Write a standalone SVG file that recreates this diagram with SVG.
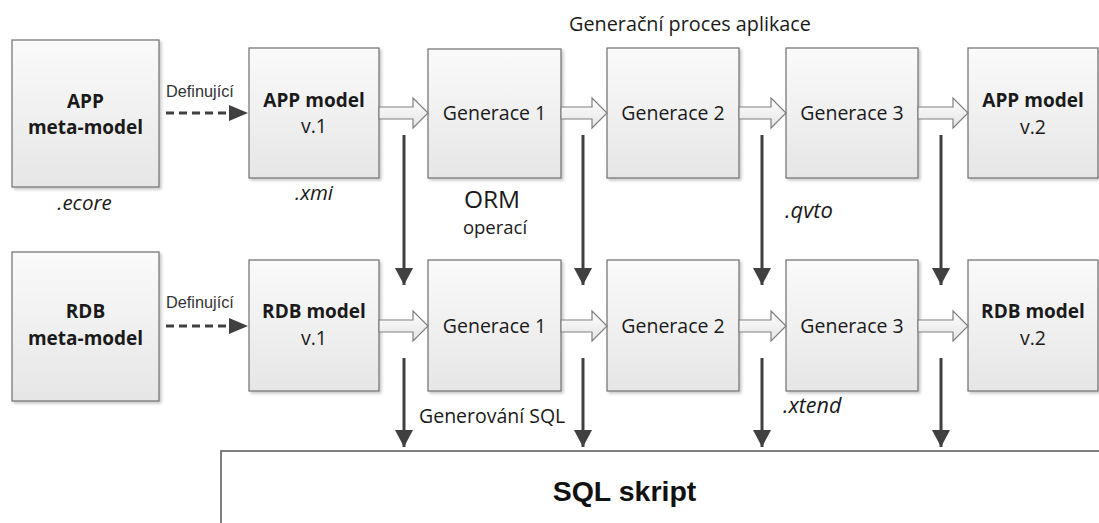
<svg xmlns="http://www.w3.org/2000/svg" width="1099" height="523" viewBox="0 0 1099 523">
  <style>
    .box { fill: url(#boxGrad); stroke: #6f6f6f; stroke-width: 1.2; filter: url(#shadow); }
    .blk { fill: url(#arrGrad); stroke: #808080; stroke-width: 1.2; }
    .t { font-family: "Open Sans", "Liberation Sans", sans-serif; fill: #1a1a1a; text-anchor: middle; }
    .b { font-weight: bold; font-size: 19px; }
    .r { font-size: 19.5px; }
    .i { font-style: italic; font-size: 20.5px; }
    .lbl { font-family: "Liberation Sans", Arial, sans-serif; font-size: 16.3px; fill: #333; }
    .v { stroke: #404040; stroke-width: 3; fill: none; marker-end: url(#head); }
    .d { stroke: #404040; stroke-width: 3; fill: none; stroke-dasharray: 8 5; }
    .dh { fill: #404040; }
  </style>
  <defs>
    <linearGradient id="boxGrad" x1="0" y1="0" x2="0" y2="1">
      <stop offset="0" stop-color="#fafafa"/>
      <stop offset="1" stop-color="#e6e6e6"/>
    </linearGradient>
    <linearGradient id="arrGrad" x1="0" y1="0" x2="0" y2="1">
      <stop offset="0" stop-color="#ffffff"/>
      <stop offset="1" stop-color="#e4e4e4"/>
    </linearGradient>
    <filter id="shadow" x="-10%" y="-10%" width="130%" height="130%">
      <feDropShadow dx="2" dy="2" stdDeviation="1.5" flood-color="#000" flood-opacity="0.22"/>
    </filter>
    <marker id="head" markerUnits="userSpaceOnUse" markerWidth="20" markerHeight="20" viewBox="0 0 20 20" refX="17" refY="10" orient="auto">
      <path d="M0,1 L17,10 L0,19 Z" fill="#404040"/>
    </marker>
  </defs>

  <rect width="1099" height="523" fill="#ffffff"/>

  <text class="t" x="690" y="31" style="font-size:19.8px">Generační proces aplikace</text>

  <g id="app-meta">
    <rect class="box" x="12" y="40" width="147" height="147"/>
    <text class="t b" x="85.5" y="108">APP</text>
    <text class="t b" x="85.5" y="134">meta-model</text>
    <text class="t i" x="84.5" y="210">.ecore</text>
  </g>
  <g id="app-v1">
    <rect class="box" x="249" y="48" width="130" height="130"/>
    <text class="t b" x="314" y="107">APP model</text>
    <text class="t r" x="314" y="133">v.1</text>
    <text class="t i" x="314" y="200">.xmi</text>
  </g>
  <g id="app-g1">
    <rect class="box" x="428" y="49" width="133" height="129"/>
    <text class="t r" x="494.5" y="120">Generace 1</text>
  </g>
  <g id="app-g2">
    <rect class="box" x="607" y="48" width="132" height="130"/>
    <text class="t r" x="673" y="120">Generace 2</text>
  </g>
  <g id="app-g3">
    <rect class="box" x="786" y="48" width="132" height="130"/>
    <text class="t r" x="852" y="120">Generace 3</text>
  </g>
  <g id="app-v2">
    <rect class="box" x="968" y="48" width="130" height="130"/>
    <text class="t b" x="1033" y="107">APP model</text>
    <text class="t r" x="1033" y="134">v.2</text>
  </g>

  <g id="rdb-meta">
    <rect class="box" x="12" y="252" width="147" height="149"/>
    <text class="t b" x="85.5" y="318">RDB</text>
    <text class="t b" x="85.5" y="345">meta-model</text>
  </g>
  <g id="rdb-v1">
    <rect class="box" x="249" y="260" width="130" height="131"/>
    <text class="t b" x="314" y="318">RDB model</text>
    <text class="t r" x="314" y="345">v.1</text>
  </g>
  <g id="rdb-g1">
    <rect class="box" x="428" y="260" width="133" height="131"/>
    <text class="t r" x="494.5" y="333">Generace 1</text>
  </g>
  <g id="rdb-g2">
    <rect class="box" x="607" y="260" width="132" height="131"/>
    <text class="t r" x="673" y="333">Generace 2</text>
  </g>
  <g id="rdb-g3">
    <rect class="box" x="786" y="260" width="132" height="131"/>
    <text class="t r" x="852" y="333">Generace 3</text>
  </g>
  <g id="rdb-v2">
    <rect class="box" x="968" y="260" width="130" height="131"/>
    <text class="t b" x="1033" y="318">RDB model</text>
    <text class="t r" x="1033" y="345">v.2</text>
  </g>

  <g id="sql">
    <rect x="221" y="451" width="900" height="100" fill="#ffffff" stroke="#555555" stroke-width="1.5"/>
    <text x="624.5" y="501" text-anchor="middle" font-family="Liberation Sans, Arial, sans-serif" font-weight="bold" font-size="28.5" fill="#111">SQL skript</text>
  </g>

  <g id="labels">
    <text class="t" x="492" y="208" style="font-size:24.5px">ORM</text>
    <text class="t" x="495" y="234" style="font-size:18.5px">operací</text>
    <text class="t i" x="785" y="218" style="text-anchor:start;font-size:22px">.qvto</text>
    <text class="t" x="419" y="423" style="text-anchor:start;font-size:19.5px">Generování SQL</text>
    <text class="t i" x="783" y="413" style="text-anchor:start;font-size:21.5px">.xtend</text>
  </g>

  <g id="connectors">
    <!-- Definující dashed arrows -->
    <text class="lbl" x="166" y="97">Definující</text>
    <line class="d" x1="166" y1="113" x2="231" y2="113"/>
    <path class="dh" d="M229,105 L248,113 L229,121 Z"/>
    <text class="lbl" x="166" y="308">Definující</text>
    <line class="d" x1="166" y1="326" x2="231" y2="326"/>
    <path class="dh" d="M229,318 L248,326 L229,334 Z"/>

    <!-- block arrows top row -->
    <path class="blk" d="M379,107 H413 V98 L428,113 L413,128 V119 H379 Z"/>
    <path class="blk" d="M561,107 H592 V98 L607,113 L592,128 V119 H561 Z"/>
    <path class="blk" d="M739,107 H771 V98 L786,113 L771,128 V119 H739 Z"/>
    <path class="blk" d="M918,107 H953 V98 L968,113 L953,128 V119 H918 Z"/>
    <!-- block arrows bottom row -->
    <path class="blk" d="M379,320 H413 V311 L428,326 L413,341 V332 H379 Z"/>
    <path class="blk" d="M561,320 H592 V311 L607,326 L592,341 V332 H561 Z"/>
    <path class="blk" d="M739,320 H771 V311 L786,326 L771,341 V332 H739 Z"/>
    <path class="blk" d="M918,320 H953 V311 L968,326 L953,341 V332 H918 Z"/>

    <!-- vertical arrows top -> bottom row -->
    <line class="v" x1="404" y1="135" x2="404" y2="285"/>
    <line class="v" x1="583" y1="135" x2="583" y2="285"/>
    <line class="v" x1="762" y1="135" x2="762" y2="285"/>
    <line class="v" x1="941" y1="135" x2="941" y2="285"/>
    <!-- vertical arrows bottom row -> SQL -->
    <line class="v" x1="404" y1="358" x2="404" y2="447"/>
    <line class="v" x1="583" y1="358" x2="583" y2="447"/>
    <line class="v" x1="762" y1="358" x2="762" y2="447"/>
    <line class="v" x1="941" y1="358" x2="941" y2="447"/>
  </g>
</svg>
